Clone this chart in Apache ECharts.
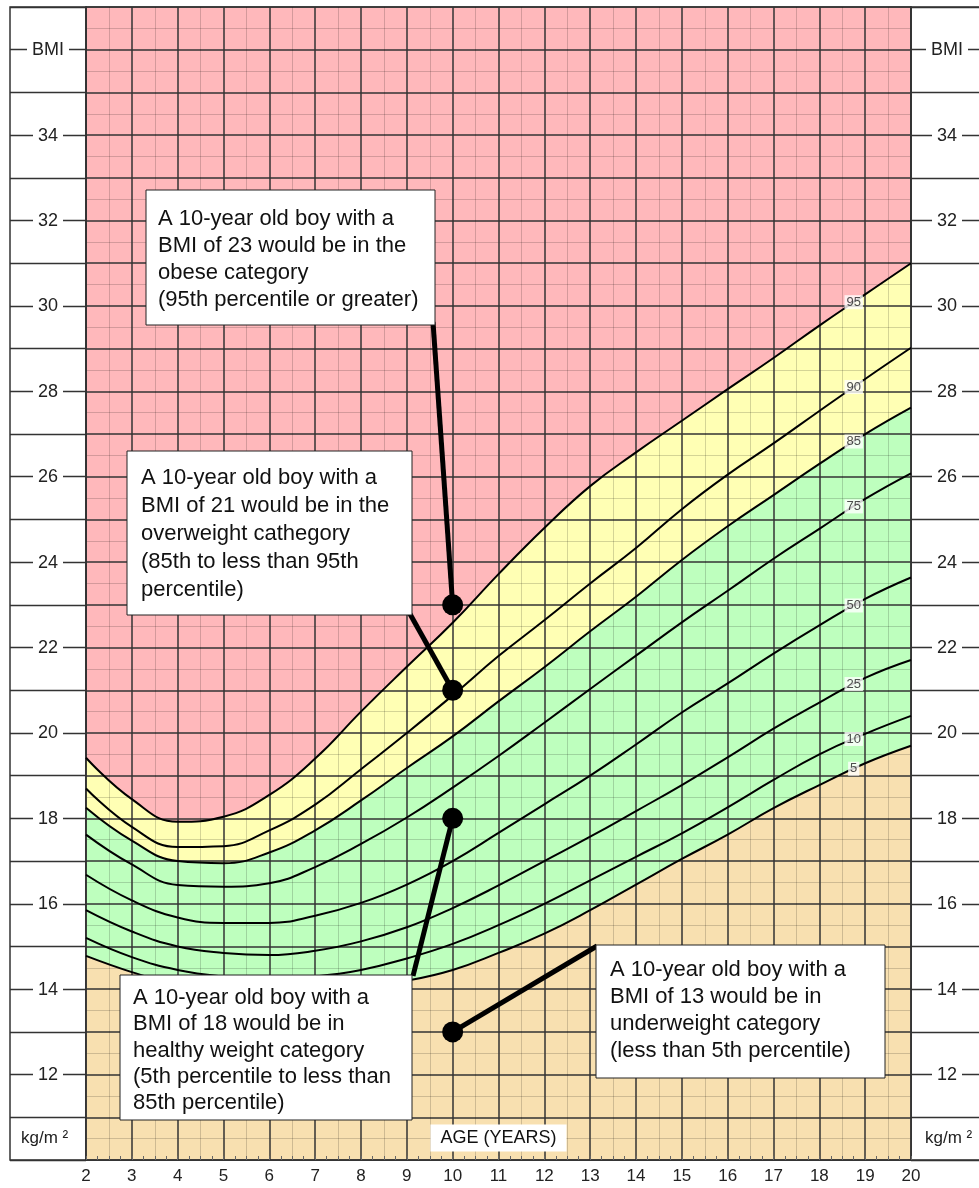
<!DOCTYPE html>
<html><head><meta charset="utf-8">
<script src="https://cdn.jsdelivr.net/npm/echarts@6/dist/echarts.min.js"></script>
<style>html,body{margin:0;padding:0;background:#fff}#c{width:979px;height:1188px}</style>
</head><body><div id="c"></div><script>
// ---------------- DATA ----------------
const ages = [2,3,4,5,6,7,8,9,10,11,12,13,14,15,16,17,18,19,20];
const p95 = [19.42,18.45,17.92,18.04,18.55,19.40,20.50,21.55,22.58,23.72,24.80,25.78,26.57,27.31,28.05,28.78,29.54,30.27,31.00];
const p90 = [18.70,17.80,17.33,17.35,17.72,18.32,19.15,20.00,20.88,21.80,22.64,23.50,24.33,25.24,26.05,26.78,27.54,28.29,29.02];
const p85 = [18.25,17.48,17.00,16.95,17.20,17.72,18.42,19.18,19.92,20.74,21.54,22.38,23.19,24.05,24.84,25.57,26.30,27.00,27.62];
const p75 = [17.62,16.92,16.44,16.40,16.48,16.86,17.40,18.02,18.72,19.46,20.24,21.03,21.81,22.59,23.33,24.08,24.78,25.48,26.08];
const p50 = [16.68,16.08,15.68,15.55,15.55,15.72,16.02,16.45,17.00,17.66,18.33,19.00,19.73,20.48,21.16,21.86,22.52,23.14,23.64];
const p25 = [15.85,15.35,15.00,14.85,14.80,14.90,15.12,15.45,15.90,16.43,17.00,17.57,18.17,18.78,19.43,20.10,20.71,21.29,21.71];
const p10 = [15.20,14.75,14.45,14.30,14.25,14.30,14.45,14.72,15.06,15.50,16.00,16.55,17.10,17.65,18.26,18.90,19.50,19.98,20.40];
const p5  = [14.78,14.40,14.10,13.95,13.90,13.95,14.05,14.20,14.45,14.85,15.30,15.85,16.45,17.05,17.62,18.24,18.78,19.29,19.70];
const percentileNames = ['95','90','85','75','50','25','10','5'];
const percentileData = [p95,p90,p85,p75,p50,p25,p10,p5];
const labelAge = 18.75;

const yTickValues = [12,14,16,18,20,22,24,26,28,30,32,34,36];
const yTickLabels = ['12','14','16','18','20','22','24','26','28','30','32','34','BMI'];

const exampleAges = [10,10,10,10];
const exampleBMI = [23,21,18,13];
const exampleTexts = [
  ['A 10-year old boy with a','BMI of 23 would be in the','obese category','(95th percentile or greater)'],
  ['A 10-year old boy with a','BMI of 21 would be in the','overweight cathegory','(85th to less than 95th','percentile)'],
  ['A 10-year old boy with a','BMI of 18 would be in','healthy weight category','(5th percentile to less than','85th percentile)'],
  ['A 10-year old boy with a','BMI of 13 would be in','underweight category','(less than 5th percentile)']
];
const xName = 'AGE (YEARS)';
const unitText = 'kg/m \u00B2';

// ---------------- LAYOUT / STYLE ----------------
const FONT = '"Liberation Sans", Arial, Helvetica, sans-serif';
const C_PINK = '#FFB8BB', C_YEL = '#FFFFB4', C_GRN = '#BEFFBE', C_TAN = '#F8E0B0';
const MAJOR = {color:'#333', width:1.5};
const MINOR = {color:'rgba(0,0,0,0.17)', width:1};
const SMOOTH = 0.45;
const boxLayout = [
  {x:146, y:190, w:289, h:135, tx:158, ty:205, lh:27, ax:433, ay:322},
  {x:127, y:451, w:285, h:164, tx:141, ty:464, lh:28, ax:410, ay:614},
  {x:120, y:975, w:292, h:145, tx:133, ty:985, lh:26.2, ax:413, ay:976},
  {x:596, y:945, w:289, h:133, tx:610, ty:957, lh:26.7, ax:597, ay:946}
];

function pairs(arr){ return ages.map((a,i)=>[a,arr[i]]); }
function interp(arr, a){
  for (let i=0;i<ages.length-1;i++){
    if (a>=ages[i] && a<=ages[i+1]){ const t=(a-ages[i])/(ages[i+1]-ages[i]); return arr[i]+t*(arr[i+1]-arr[i]); }
  }
  return arr[arr.length-1];
}
function yFmt(v){
  const r = Math.round(v); if (Math.abs(v-r)>1e-6) return '';
  const i = yTickValues.indexOf(r); return i>=0 ? '{b|'+yTickLabels[i]+'}' : '';
}
const labelRich = {b:{backgroundColor:'#fff', padding:[1,5,0,5], color:'#222', fontSize:18, fontFamily:FONT}};

const chart = echarts.init(document.getElementById('c'), null, {renderer:'canvas'});

const fillSeries = [[p95,C_YEL],[p85,C_GRN],[p5,C_TAN]].map(([arr,col])=>({
  type:'line', xAxisIndex:0, yAxisIndex:0, data:pairs(arr), smooth:SMOOTH, symbol:'none',
  lineStyle:{width:0, opacity:0}, areaStyle:{color:col, opacity:1, origin:'start'}, z:1, silent:true
}));
const curveSeries = percentileData.map((arr,k)=>({
  type:'line', name:'P'+percentileNames[k], xAxisIndex:0, yAxisIndex:0, data:pairs(arr), smooth:SMOOTH, symbol:'none',
  lineStyle:{color:'#000', width:2}, z:5, silent:true
}));
const labelSeries = {
  type:'scatter', xAxisIndex:0, yAxisIndex:0, symbolSize:1, itemStyle:{color:'rgba(0,0,0,0)'}, z:6, silent:true,
  data: percentileData.map((arr,k)=>({name:percentileNames[k], value:[labelAge, interp(arr,labelAge)]})),
  label:{show:true, position:'inside', formatter:'{b}', backgroundColor:'#fff', padding:[1,2,0,2], fontSize:13, color:'#222', fontFamily:FONT}
};
const dotSeries = {
  type:'scatter', xAxisIndex:0, yAxisIndex:0, symbolSize:21, itemStyle:{color:'#000', opacity:1}, z:10, silent:true,
  data: exampleAges.map((a,i)=>[a, exampleBMI[i]])
};

const sideY = (gi)=>({gridIndex:gi, type:'value', min:10, max:37, interval:1,
  axisLine:{show:false}, axisTick:{show:false}, axisLabel:{show:false},
  splitLine:{show:true, lineStyle:{color:'#333', width:1.3}}});
const sideX = (gi)=>({gridIndex:gi, type:'value', min:0, max:1, show:false});

chart.setOption({
  animation:false,
  grid:[
    {left:86, top:7, width:825, height:1153, show:true, backgroundColor:C_PINK, borderColor:'#333', borderWidth:1.5, outerBoundsMode:'none'},
    {left:10, top:7, width:76, height:1153, show:true, backgroundColor:'#fff', borderColor:'#333', borderWidth:1.5, outerBoundsMode:'none'},
    {left:911, top:7, width:80, height:1153, show:true, backgroundColor:'#fff', borderColor:'#333', borderWidth:1.5, outerBoundsMode:'none'}
  ],
  xAxis:[
    {gridIndex:0, type:'value', min:2, max:20, interval:1, position:'bottom', z:3,
      axisLine:{show:true, lineStyle:MAJOR}, axisTick:{show:false},
      axisLabel:{color:'#222', fontSize:17, margin:8, fontFamily:FONT},
      splitLine:{show:true, lineStyle:MAJOR},
      minorTick:{show:false, splitNumber:2}, minorSplitLine:{show:true, lineStyle:MINOR}},
    {gridIndex:0, type:'value', min:2, max:20, interval:0.25, position:'bottom', z:4,
      axisLine:{show:false}, axisTick:{show:true, inside:true, length:4, lineStyle:{color:'#666', width:1}},
      axisLabel:{show:false}, splitLine:{show:false},
      name:xName, nameLocation:'middle', nameGap:-22, nameMoveOverlap:false,
      nameTextStyle:{fontSize:18, color:'#111', fontFamily:FONT, backgroundColor:'#fff', padding:[5,10,4,10], verticalAlign:'middle'}},
    sideX(1), sideX(2)
  ],
  yAxis:[
    {gridIndex:0, type:'value', min:10, max:37, interval:1, position:'left', z:3,
      axisLine:{show:true, lineStyle:MAJOR}, axisTick:{show:false},
      axisLabel:{formatter:yFmt, align:'center', margin:38, rich:labelRich},
      splitLine:{show:true, lineStyle:MAJOR},
      minorTick:{show:false, splitNumber:2}, minorSplitLine:{show:true, lineStyle:MINOR}},
    {gridIndex:0, type:'value', min:10, max:37, interval:1, position:'right', z:3,
      axisLine:{show:true, lineStyle:MAJOR}, axisTick:{show:false},
      axisLabel:{formatter:yFmt, align:'center', margin:36, rich:labelRich},
      splitLine:{show:false}},
    sideY(1), sideY(2)
  ],
  series:[...fillSeries, ...curveSeries, labelSeries, dotSeries]
});

// annotation boxes and connectors, anchored to the example points
const graphics = [];
exampleTexts.forEach((lines,i)=>{
  const L = boxLayout[i];
  const p = chart.convertToPixel({gridIndex:0}, [exampleAges[i], exampleBMI[i]]);
  graphics.push({type:'line', z:90, silent:true, shape:{x1:L.ax, y1:L.ay, x2:p[0], y2:p[1]}, style:{stroke:'#000', lineWidth:5}});
  graphics.push({type:'rect', z:100, silent:true, shape:{x:L.x, y:L.y, width:L.w, height:L.h}, style:{fill:'#fff', stroke:'#222', lineWidth:1}});
  graphics.push({type:'text', z:101, silent:true, x:L.tx, y:L.ty, style:{text:lines.join('\n'), font:'22px '+FONT, lineHeight:L.lh, fill:'#111', textVerticalAlign:'top'}});
});
graphics.push({type:'text', z:101, silent:true, x:21, y:1138, style:{text:unitText, font:'17px '+FONT, fill:'#222', textVerticalAlign:'middle'}});
graphics.push({type:'text', z:101, silent:true, x:925, y:1138, style:{text:unitText, font:'17px '+FONT, fill:'#222', textVerticalAlign:'middle'}});
chart.setOption({graphic:graphics});
</script></body></html>
